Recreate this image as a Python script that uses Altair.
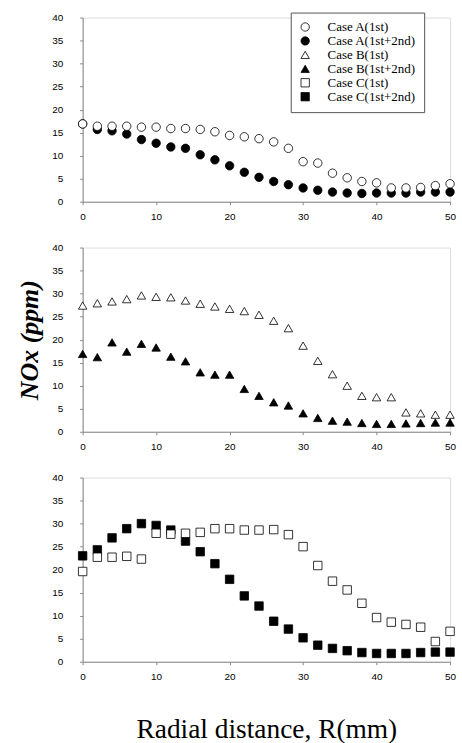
import altair as alt
import pandas as pd

R = [0, 2, 4, 6, 8, 10, 12, 14, 16, 18, 20, 22, 24, 26, 28, 30, 32, 34, 36, 38, 40, 42, 44, 46, 48, 50]

A_1st = [16.9, 16.4, 16.4, 16.4, 16.2, 16.2, 15.9, 15.9, 15.7, 15.2, 14.4, 14.1, 13.7, 13.0, 11.6, 8.7, 8.4, 6.2, 5.2, 4.4, 4.1, 3.0, 3.0, 3.1, 3.5, 3.9]
A_2nd = [16.9, 15.7, 15.4, 14.7, 13.5, 12.7, 11.9, 11.6, 10.2, 9.1, 7.8, 6.4, 5.3, 4.4, 3.7, 3.0, 2.5, 2.1, 1.9, 1.8, 1.9, 1.9, 1.9, 2.1, 2.1, 2.1]
B_1st = [27.4, 27.9, 28.3, 28.8, 29.6, 29.3, 29.2, 28.5, 27.8, 27.2, 26.7, 26.2, 25.4, 24.1, 22.5, 18.7, 15.4, 12.5, 10.0, 7.8, 7.5, 7.5, 4.2, 4.0, 3.7, 3.7]
B_2nd = [16.9, 16.2, 19.4, 17.4, 19.1, 18.3, 16.3, 15.3, 12.9, 12.4, 12.4, 9.3, 7.8, 6.4, 5.7, 4.0, 3.0, 2.4, 2.2, 1.9, 1.7, 1.7, 1.8, 1.9, 2.0, 2.0]
C_1st = [19.6, 22.7, 22.7, 22.9, 22.3, 27.9, 27.7, 27.9, 28.1, 28.9, 28.9, 28.6, 28.6, 28.7, 27.6, 25.0, 20.9, 17.5, 15.6, 12.7, 9.6, 8.6, 8.1, 7.5, 4.4, 6.6]
C_2nd = [23.0, 24.3, 26.9, 28.9, 30.0, 29.6, 28.6, 26.2, 23.9, 21.3, 17.9, 14.3, 12.1, 8.8, 7.1, 5.2, 3.6, 2.9, 2.4, 2.0, 1.8, 1.8, 1.8, 2.0, 2.1, 2.1]

cases = ["Case A(1st)", "Case A(1st+2nd)", "Case B(1st)", "Case B(1st+2nd)", "Case C(1st)", "Case C(1st+2nd)"]
shapes = ["circle", "circle", "triangle-up", "triangle-up", "square", "square"]
fills = ["white", "black", "white", "black", "white", "black"]
strokes = ["black", "black", "black", "black", "black", "black"]

x_ticks = [0, 10, 20, 30, 40, 50]
y_ticks = [0, 5, 10, 15, 20, 25, 30, 35, 40]

FONT = "Liberation Serif"
W, H = 369, 185


def panel(s_open, s_full, name_open, name_full, show_legend=False, ytitle=None, xtitle=None):
    df = pd.DataFrame({
        "R": R + R,
        "NOx": s_full + s_open,
        "case": [name_full] * len(R) + [name_open] * len(R),
    })
    if show_legend:
        legend = alt.Legend(
            title=None, orient="none", legendX=209, legendY=-5,
            labelFont=FONT, labelFontSize=13, labelColor="black",
            symbolSize=70, symbolStrokeWidth=0.8,
            padding=8, rowPadding=0, labelOffset=16,
            strokeColor="#555", fillColor="white", cornerRadius=0,
        )
    else:
        legend = None
    xaxis = alt.Axis(values=x_ticks, labelFlush=False, grid=False, tickSize=3,
                     labelPadding=7,
                     title=xtitle if xtitle else None,
                     titleFont=FONT, titleFontSize=27.5, titleFontWeight="normal",
                     titlePadding=34)
    yaxis = alt.Axis(values=y_ticks, grid=False, tickSize=3, labelPadding=17,
                     title=ytitle if ytitle else None,
                     titleFont=FONT, titleFontSize=26, titleFontStyle="italic",
                     titleFontWeight="bold", titlePadding=9)
    return alt.Chart(df).mark_point(
        size=72, strokeWidth=0.8, opacity=1, fillOpacity=1
    ).encode(
        x=alt.X("R:Q", scale=alt.Scale(domain=[0, 50], nice=False), axis=xaxis),
        y=alt.Y("NOx:Q", scale=alt.Scale(domain=[0, 40], nice=False), axis=yaxis),
        shape=alt.Shape("case:N", scale=alt.Scale(domain=cases, range=shapes), legend=legend),
        fill=alt.Fill("case:N", scale=alt.Scale(domain=cases, range=fills), legend=legend),
        stroke=alt.Stroke("case:N", scale=alt.Scale(domain=cases, range=strokes), legend=legend),
    ).properties(width=W, height=H)


p1 = panel(A_1st, A_2nd, cases[0], cases[1], show_legend=True)
p2 = panel(B_1st, B_2nd, cases[2], cases[3], ytitle="NOx (ppm)")
p3 = panel(C_1st, C_2nd, cases[4], cases[5], xtitle="Radial distance, R(mm)")

chart = alt.vconcat(p1, p2, p3, spacing=46, bounds="flush").resolve_scale(
    shape="independent", fill="independent", stroke="independent"
).properties(
    padding={"left": 16, "top": 10, "right": 5, "bottom": 5}
).configure_view(
    stroke="#888", strokeDash=[6, 4], strokeWidth=1
).configure_axis(
    domainColor="black", domainWidth=1.3, tickColor="black",
    labelFont=FONT, labelFontSize=9, labelFontWeight="bold", labelColor="black",
    titleColor="black"
).configure(background="white")

chart.save("out.html", embed_options={"renderer": "svg", "actions": False})
